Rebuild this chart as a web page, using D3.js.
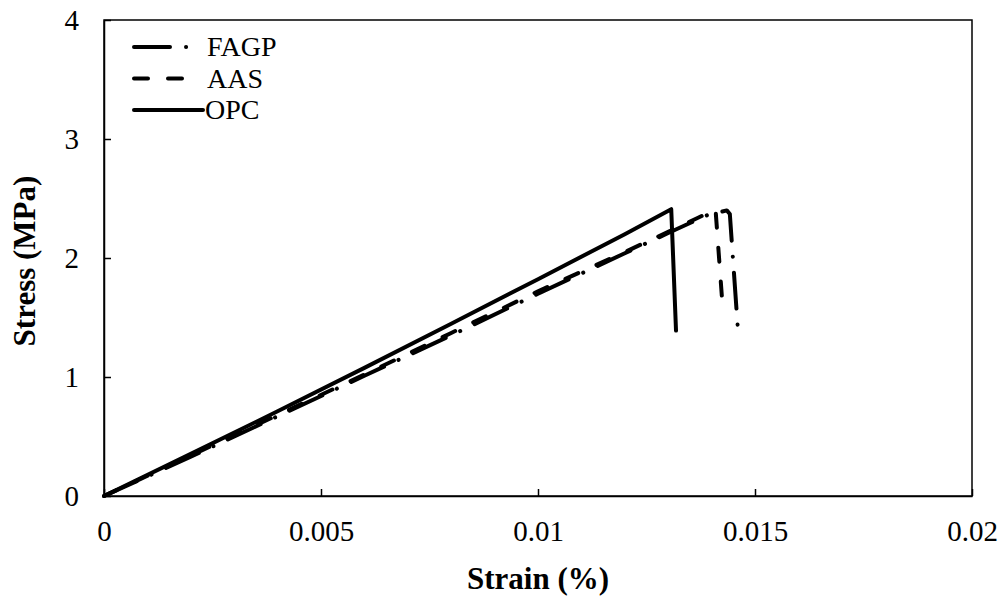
<!DOCTYPE html>
<html><head><meta charset="utf-8">
<script src="https://cdn.jsdelivr.net/npm/d3@7"></script>
<style>body{margin:0;background:#fff}svg{display:block}svg text{font-family:"Liberation Serif","DejaVu Serif","Times New Roman",Times,serif}</style>
</head><body>
<svg id="c" width="1001" height="597"></svg>
<script>
const seriesNames = ["FAGP", "AAS", "OPC"];
const fagpStrain = [0, 0.002, 0.004, 0.006, 0.008, 0.010, 0.012, 0.013, 0.0139, 0.01435, 0.01442, 0.01461];
const fagpStress = [0, 0.33, 0.67, 1.01, 1.35, 1.70, 2.04, 2.21, 2.36, 2.40, 2.37, 1.38];
const aasStrain = [0, 0.002, 0.004, 0.006, 0.008, 0.010, 0.012, 0.013, 0.0137, 0.01409, 0.01426];
const aasStress = [0, 0.34, 0.68, 1.02, 1.37, 1.72, 2.05, 2.22, 2.34, 2.41, 1.56];
const opcStrain = [0, 0.002, 0.004, 0.006, 0.008, 0.010, 0.012, 0.01307, 0.01318];
const opcStress = [0, 0.354, 0.712, 1.077, 1.448, 1.822, 2.20, 2.41, 1.39];
const xTicks = [0, 0.005, 0.01, 0.015, 0.02];
const xTickLabels = ["0", "0.005", "0.01", "0.015", "0.02"];
const yTicks = [0, 1, 2, 3, 4];

const FONT = '"Liberation Serif","DejaVu Serif","Times New Roman",Times,serif';
const svg = d3.select("#c");
const L = 104, R = 972, T = 20, B = 496;
const x = d3.scaleLinear().domain([0, 0.02]).range([L, R]);
const y = d3.scaleLinear().domain([0, 4]).range([B, T]);

svg.append("rect").attr("x", L).attr("y", T).attr("width", R - L).attr("height", B - T)
  .attr("fill", "none").attr("stroke", "#000").attr("stroke-width", 1.5);

const xAxis = svg.append("g").attr("transform", `translate(0,${B})`)
  .call(d3.axisBottom(x).tickValues(xTicks).tickFormat((d, i) => xTickLabels[i]).tickSizeInner(-7).tickSizeOuter(0).tickPadding(25));
const yAxis = svg.append("g").attr("transform", `translate(${L},0)`)
  .call(d3.axisLeft(y).tickValues(yTicks).tickFormat(d3.format("d")).tickSizeInner(-7).tickSizeOuter(0).tickPadding(25));
[xAxis, yAxis].forEach(a => {
  a.attr("font-family", FONT).attr("font-size", 29);
  a.select(".domain").attr("stroke", "#000").attr("stroke-width", 1.5);
  a.selectAll(".tick line").attr("stroke", "#000").attr("stroke-width", 1.5);
  a.selectAll(".tick text").attr("fill", "#000");
});
xAxis.selectAll(".tick text").attr("dy", null).attr("y", 45);

svg.append("text").attr("x", (L + R) / 2).attr("y", 589).attr("text-anchor", "middle")
  .attr("font-size", 31).attr("font-weight", "bold").text("Strain (%)");
svg.append("text").attr("transform", `translate(35,${(T + B) / 2 + 3}) rotate(-90)`).attr("text-anchor", "middle")
  .attr("font-size", 31).attr("font-weight", "bold").text("Stress (MPa)");

const line = d3.line().x(d => x(d[0])).y(d => y(d[1]));
const styles = {
  FAGP: { dash: "36,16,0.1,16", w: 4 },
  AAS: { dash: "14,20", w: 4 },
  OPC: { dash: null, w: 4 }
};
const data = {
  FAGP: fagpStrain.map((s, i) => [s, fagpStress[i]]),
  AAS: aasStrain.map((s, i) => [s, aasStress[i]]),
  OPC: opcStrain.map((s, i) => [s, opcStress[i]])
};
seriesNames.forEach(n => {
  svg.append("path").datum(data[n]).attr("d", line).attr("fill", "none").attr("stroke", "#000")
    .attr("stroke-width", styles[n].w).attr("stroke-linecap", "round").attr("stroke-linejoin", "round")
    .attr("stroke-dasharray", styles[n].dash);
});

const lg = svg.append("g");
seriesNames.forEach((n, i) => {
  const yy = 47 + i * 31.5;
  lg.append("line").attr("x1", 134).attr("x2", n === "OPC" ? 203 : 192).attr("y1", yy).attr("y2", yy)
    .attr("stroke", "#000").attr("stroke-width", styles[n].w).attr("stroke-linecap", "round")
    .attr("stroke-dasharray", styles[n].dash);
  lg.append("text").attr("x", n === "OPC" ? 205 : 207).attr("y", yy + 9).attr("font-size", 28).text(n);
});
</script>
</body></html>
